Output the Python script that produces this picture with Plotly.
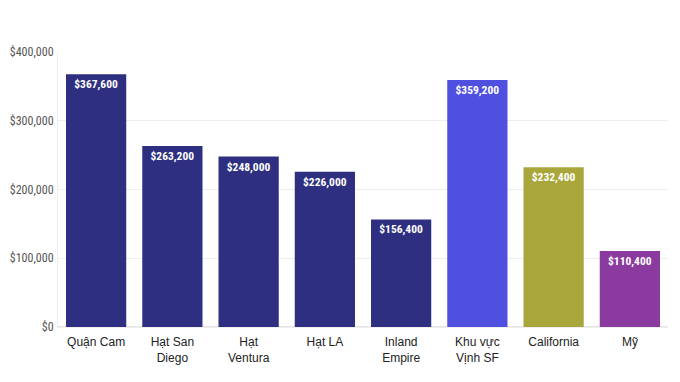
import plotly.graph_objects as go

categories = ["Quận Cam", "Hạt San<br>Diego", "Hạt<br>Ventura", "Hạt LA", "Inland<br>Empire", "Khu vực<br>Vịnh SF", "California", "Mỹ"]
values = [367600, 263200, 248000, 226000, 156400, 359200, 232400, 110400]
colors = ["#2E2F80", "#2E2F80", "#2E2F80", "#2E2F80", "#2E2F80", "#4F4FE0", "#A9A63C", "#8B3A9F"]
tick_vals = [0, 100000, 200000, 300000, 400000]
tick_text = ["$0", "$100,000", "$200,000", "$300,000", "$400,000"]

labels = ["<b>$" + f"{v:,}" + "</b>" for v in values]
cond = "Roboto Condensed, Liberation Sans Narrow, DejaVu Sans Condensed, Roboto"

fig = go.Figure(go.Bar(
    x=categories, y=values, marker=dict(color=colors, line=dict(width=0)),
    text=labels, textposition="inside", insidetextanchor="end",
    textangle=0, textfont=dict(family=cond, size=11.5, color="white"),
    cliponaxis=False,
))
fig.update_layout(
    width=680, height=382, margin=dict(l=50, r=20, t=44, b=63),
    plot_bgcolor="white", paper_bgcolor="white", bargap=0.21,
    showlegend=False,
    font=dict(family="Roboto", color="#555555"),
)
fig.update_xaxes(tickfont=dict(family="Liberation Sans", size=12, color="#222222"),
                 showline=True, linecolor="#EEEEEE", ticks="", automargin=False,
                 ticklabelstandoff=4)
fig.update_yaxes(range=[0, 400000], tickvals=tick_vals, ticktext=tick_text,
                 tickfont=dict(family=cond, size=12, color="#555555"),
                 gridcolor="#EEEEEE", showline=True, linecolor="#EEEEEE",
                 zeroline=True, zerolinecolor="#E6E6E6", automargin=False,
                 ticklabelstandoff=1)
fig.write_html("out.html")
